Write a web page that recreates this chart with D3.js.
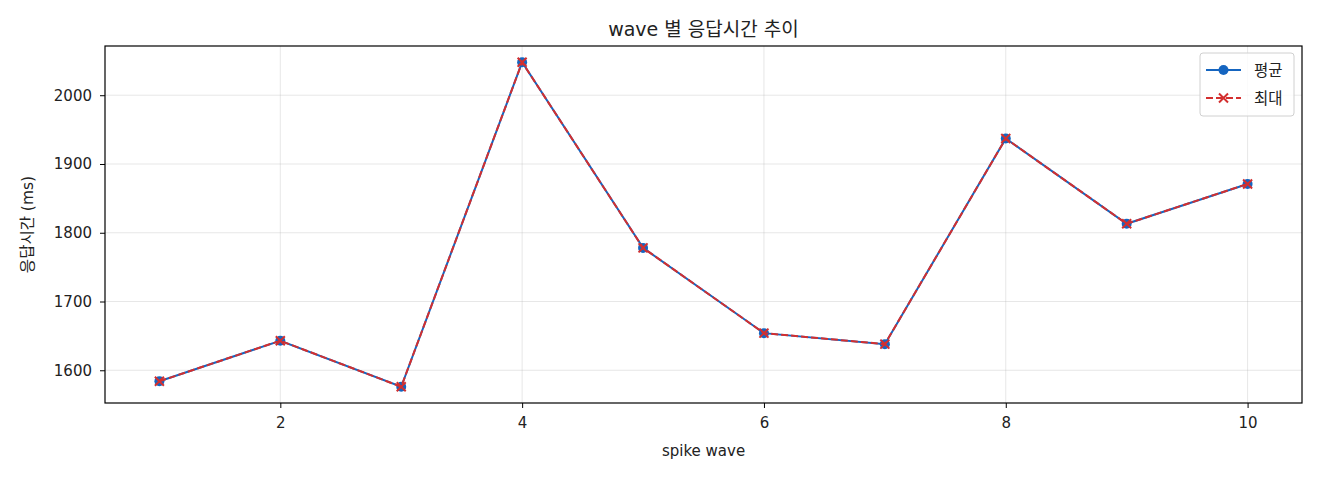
<!DOCTYPE html>
<html>
<head>
<meta charset="utf-8">
<script src="https://cdn.jsdelivr.net/npm/d3@7"></script>
<style>
  body { margin: 0; background: #fff; }
  text { font-family: "DejaVu Sans", "Noto Sans CJK KR", sans-serif; fill: #222; }
</style>
</head>
<body>
<script>
// data
var waves = [1, 2, 3, 4, 5, 6, 7, 8, 9, 10];
var avgMs = [1584, 1643, 1576, 2048, 1778, 1654, 1638, 1937, 1813, 1871];
var maxMs = [1584, 1643, 1576, 2048, 1778, 1654, 1638, 1937, 1813, 1871];
var xTicks = [2, 4, 6, 8, 10];
var yTicks = [1600, 1700, 1800, 1900, 2000];
var seriesNames = ["평균", "최대"];

var svgWidth = 1320;
var svgHeight = 480;
var margin = {top: 46, right: 18, bottom: 77, left: 105};
var width = svgWidth - margin.left - margin.right;
var height = svgHeight - margin.top - margin.bottom;

var blue = "#1565c0";
var red = "#d32f2f";
var fontStack = "'DejaVu Sans', 'Noto Sans CJK KR', sans-serif";

var svg = d3.select("body")
            .append("svg")
            .attr("width", svgWidth)
            .attr("height", svgHeight);

var g = svg.append("g")
           .attr("transform", "translate(" + margin.left + "," + margin.top + ")");

// matplotlib-like 5% margins
var xPad = (d3.max(waves) - d3.min(waves)) * 0.05;
var xScale = d3.scaleLinear()
               .domain([d3.min(waves) - xPad, d3.max(waves) + xPad])
               .range([0, width]);

var allVals = avgMs.concat(maxMs);
var yPad = (d3.max(allVals) - d3.min(allVals)) * 0.05;
var yScale = d3.scaleLinear()
               .domain([d3.min(allVals) - yPad, d3.max(allVals) + yPad])
               .range([height, 0]);

// grid
g.append("g")
 .selectAll("line")
 .data(xTicks)
 .enter().append("line")
 .attr("x1", function(d) { return xScale(d); })
 .attr("x2", function(d) { return xScale(d); })
 .attr("y1", 0).attr("y2", height)
 .attr("stroke", "#b0b0b0").attr("stroke-opacity", 0.3).attr("stroke-width", 1);

g.append("g")
 .selectAll("line")
 .data(yTicks)
 .enter().append("line")
 .attr("y1", function(d) { return yScale(d); })
 .attr("y2", function(d) { return yScale(d); })
 .attr("x1", 0).attr("x2", width)
 .attr("stroke", "#b0b0b0").attr("stroke-opacity", 0.3).attr("stroke-width", 1);

// axes
var xAxis = g.append("g")
             .attr("transform", "translate(0," + height + ")")
             .call(d3.axisBottom(xScale).tickValues(xTicks).tickFormat(d3.format("d")).tickSize(5).tickPadding(9));
var yAxis = g.append("g")
             .call(d3.axisLeft(yScale).tickValues(yTicks).tickFormat(d3.format("d")).tickSize(5).tickPadding(8));

[xAxis, yAxis].forEach(function(a) {
  a.select(".domain").remove();
  a.selectAll("line").attr("stroke", "#000").attr("stroke-width", 1);
  a.selectAll("text").style("font-size", "15px").style("fill", "#222")
   .style("font-family", fontStack);
});

// frame
g.append("rect")
 .attr("width", width).attr("height", height)
 .attr("fill", "none").attr("stroke", "#000").attr("stroke-width", 1.2);

// lines
var line = d3.line()
             .x(function(d, i) { return xScale(waves[i]); })
             .y(function(d) { return yScale(d); });

g.append("path")
 .datum(avgMs)
 .attr("d", line)
 .attr("fill", "none").attr("stroke", blue).attr("stroke-width", 2);

g.selectAll(".avgDot")
 .data(avgMs)
 .enter().append("circle")
 .attr("class", "avgDot")
 .attr("cx", function(d, i) { return xScale(waves[i]); })
 .attr("cy", function(d) { return yScale(d); })
 .attr("r", 5)
 .attr("fill", blue);

g.append("path")
 .datum(maxMs)
 .attr("d", line)
 .attr("fill", "none").attr("stroke", red).attr("stroke-width", 2)
 .attr("stroke-dasharray", "7,3");

function cross(sel, s) {
  sel.append("path")
     .attr("d", "M" + (-s) + "," + (-s) + "L" + s + "," + s + "M" + (-s) + "," + s + "L" + s + "," + (-s))
     .attr("stroke", red).attr("stroke-width", 2).attr("fill", "none");
}

g.selectAll(".maxDot")
 .data(maxMs)
 .enter().append("g")
 .attr("class", "maxDot")
 .attr("transform", function(d, i) { return "translate(" + xScale(waves[i]) + "," + yScale(d) + ")"; })
 .call(cross, 4.5);

// title and labels
svg.append("text")
   .attr("x", margin.left + width / 2).attr("y", 36)
   .attr("text-anchor", "middle")
   .style("font-size", "19px")
   .text("wave 별 응답시간 추이");

svg.append("text")
   .attr("x", margin.left + width / 2).attr("y", 456)
   .attr("text-anchor", "middle")
   .style("font-size", "15px")
   .text("spike wave");

svg.append("text")
   .attr("transform", "translate(33," + (margin.top + height / 2) + ") rotate(-90)")
   .attr("text-anchor", "middle")
   .style("font-size", "15.5px")
   .text("응답시간 (ms)");

// legend
var lg = svg.append("g").attr("transform", "translate(1200,53)");
lg.append("rect")
  .attr("width", 94).attr("height", 63).attr("rx", 3)
  .attr("fill", "#fff").attr("fill-opacity", 0.8)
  .attr("stroke", "#d0d0d0").attr("stroke-width", 1);

var rows = lg.selectAll(".row")
  .data(seriesNames)
  .enter().append("g")
  .attr("transform", function(d, i) { return "translate(0," + (17 + i * 28) + ")"; });

rows.append("line")
  .attr("x1", 6).attr("x2", 41).attr("y1", 0).attr("y2", 0)
  .attr("stroke", function(d, i) { return i === 0 ? blue : red; })
  .attr("stroke-width", 2)
  .attr("stroke-dasharray", function(d, i) { return i === 0 ? null : "7,3"; });

rows.filter(function(d, i) { return i === 0; })
  .append("circle").attr("cx", 23.5).attr("cy", 0).attr("r", 5).attr("fill", blue);
rows.filter(function(d, i) { return i === 1; })
  .append("g").attr("transform", "translate(23.5,0)").call(cross, 4.5);

rows.append("text")
  .attr("x", 54).attr("y", 5.5)
  .style("font-size", "15.5px")
  .text(function(d) { return d; });
</script>
</body>
</html>
